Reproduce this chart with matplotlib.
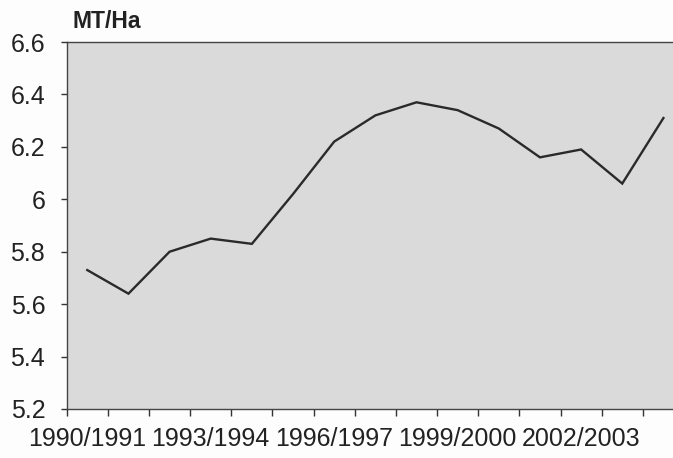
import matplotlib
matplotlib.use("Agg")
import matplotlib.pyplot as plt
from matplotlib.ticker import FuncFormatter, FixedLocator

plt.rcParams['font.family'] = ['Liberation Sans', 'DejaVu Sans']

seasons = ["1990/1991", "1991/1992", "1992/1993", "1993/1994", "1994/1995",
           "1995/1996", "1996/1997", "1997/1998", "1998/1999", "1999/2000",
           "2000/2001", "2001/2002", "2002/2003", "2003/2004", "2004/2005"]
yield_mt_ha = [5.73, 5.64, 5.80, 5.85, 5.83, 6.02, 6.22, 6.32, 6.37, 6.34,
               6.27, 6.16, 6.19, 6.06, 6.31]
y_ticks = [5.2, 5.4, 5.6, 5.8, 6.0, 6.2, 6.4, 6.6]
unit_label = "MT/Ha"

W, H = 673, 458
fig = plt.figure(figsize=(W / 100, H / 100), dpi=100)
fig.patch.set_facecolor('#fdfdfd')
left, right, top, bottom = 66.7, 684.0, 42.0, 409.0
ax = fig.add_axes([left / W, (H - bottom) / H, (right - left) / W, (bottom - top) / H])
ax.set_facecolor('#dadada')

x = list(range(len(seasons)))
ax.plot(x, yield_mt_ha, color='#2a2a2a', linewidth=1.7, solid_joinstyle='miter')

ax.set_xlim(-0.5, len(seasons) - 0.5)
ax.set_ylim(y_ticks[0], y_ticks[-1])

# x ticks: boundaries as minor ticks, labels every 3rd season
ax.xaxis.set_minor_locator(FixedLocator([i - 0.5 for i in range(len(seasons) + 1)]))
label_idx = list(range(0, len(seasons), 3))
ax.set_xticks(label_idx)
ax.set_xticklabels([seasons[i] for i in label_idx])
ax.tick_params(axis='x', which='major', length=0, pad=13, labelsize=18, colors='#222222')
ax.tick_params(axis='x', which='minor', length=5, width=1.0, color='#333333')

ax.set_yticks(y_ticks)
ax.yaxis.set_major_formatter(FuncFormatter(lambda v, p: f"{v:g}"))
ax.tick_params(axis='y', which='major', length=4.5, width=1.0, pad=11, labelsize=18,
               color='#333333', labelcolor='#222222')

for side in ['left', 'bottom', 'top']:
    ax.spines[side].set_color('#444444')
    ax.spines[side].set_linewidth(1.0)
ax.spines['right'].set_visible(False)

fig.text(73 / W, 1 - 21 / H, unit_label, fontsize=16.5, fontweight='bold',
         color='#222222', va='center', ha='left')

fig.savefig("out.png", dpi=100, facecolor=fig.get_facecolor())
